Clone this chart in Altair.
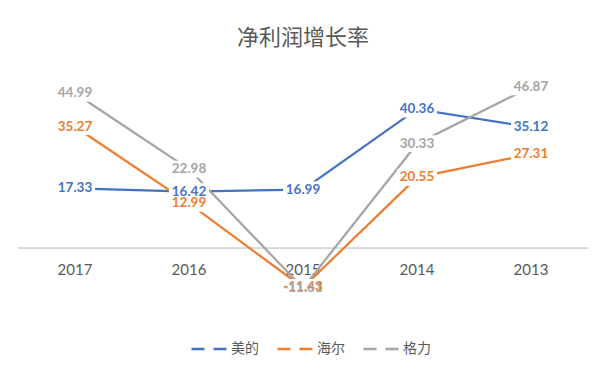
import altair as alt
import pandas as pd

years = ["2017", "2016", "2015", "2014", "2013"]
series_names = ["美的", "海尔", "格力"]
midea = [17.33, 16.42, 16.99, 40.36, 35.12]
haier = [35.27, 12.99, -11.43, 20.55, 27.31]
gree = [44.99, 22.98, -11.61, 30.33, 46.87]
colors = ["#4472C4", "#ED7D31", "#A5A5A5"]

rows = []
for name, vals in zip(series_names, [midea, haier, gree]):
    for y, v in zip(years, vals):
        rows.append({"year": y, "series": name, "value": v, "label": f"{v:.2f}"})
df = pd.DataFrame(rows)
df_years = pd.DataFrame({"year": years, "zero": [0] * len(years)})

xs = alt.X("year:N", sort=years, axis=None,
           scale=alt.Scale(type="point", padding=0.5))
ys = alt.Y("value:Q", axis=None, scale=alt.Scale(domain=[-20, 50], nice=False, zero=False))
col = alt.Color("series:N", sort=series_names,
                scale=alt.Scale(domain=series_names, range=colors),
                legend=alt.Legend(title=None, orient="none", direction="horizontal",
                                  legendX=172, legendY=254,
                                  symbolType="stroke", symbolSize=1225,
                                  symbolStrokeWidth=2.5, symbolDash=[13, 9],
                                  labelFontSize=14, labelColor="#595959",
                                  labelFont="Noto Sans CJK SC", columnPadding=13,
                                  labelOffset=3))

zero_rule = alt.Chart(df_years).mark_rule(color="#D9D9D9", strokeWidth=1).encode(
    x=alt.value(0), x2=alt.value(570),
    y=alt.Y("zero:Q", scale=alt.Scale(domain=[-20, 50], nice=False, zero=False), axis=None),
)

xlabels = alt.Chart(df_years).mark_text(
    fontSize=15, font="Lato", color="#595959", baseline="middle", dy=22
).encode(
    x=alt.X("year:N", sort=years, axis=None, scale=alt.Scale(type="point", padding=0.5)),
    y=alt.Y("zero:Q", scale=alt.Scale(domain=[-20, 50], nice=False, zero=False), axis=None),
    text="year:N",
)

base = alt.Chart(df)
lines = base.mark_line(strokeWidth=2.25).encode(x=xs, y=ys, color=col, detail="series:N")

boxes = base.mark_point(
    shape="M-1,-0.42L1,-0.42L1,0.42L-1,0.42Z", size=1600, filled=True,
    fill="white", opacity=1, strokeWidth=0
).encode(x=xs, y=ys)

labels = base.mark_text(fontSize=13.5, font="Lato", fontWeight="bold",
                        baseline="middle").encode(
    x=xs, y=ys, text="label:N",
    color=alt.Color("series:N", scale=alt.Scale(domain=series_names, range=colors), legend=None),
)

chart = alt.layer(zero_rule, xlabels, lines, boxes, labels).properties(
    width=570, height=241,
    background="white",
    title=alt.TitleParams("净利润增长率", fontSize=22, font="Noto Sans CJK SC",
                          fontWeight="normal", color="#595959", anchor="middle",
                          offset=26),
    autosize=alt.AutoSizeParams(type="none"),
    padding={"left": 18, "top": 76, "right": 23, "bottom": 60},
).configure_view(strokeWidth=0, stroke="transparent")

chart.save("out.html", embed_options={"renderer": "svg", "actions": False})
